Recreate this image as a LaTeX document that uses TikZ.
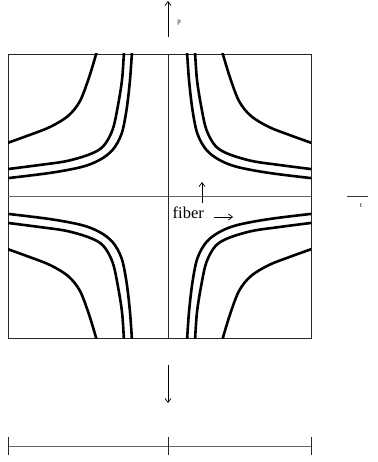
\documentclass[tikz,border=0pt]{standalone}
\usepackage{fontspec}
\setmainfont{Liberation Serif}
\usetikzlibrary{arrows.meta}
\begin{document}
\begin{tikzpicture}[x=1pt,y=-1pt,
  frame/.style={line width=0.8pt,draw=black!85},
  axisline/.style={line width=0.8pt,draw=black!60},
  curve/.style={line width=2.6pt,line cap=butt},
  thinarrow/.style={line width=0.7pt,-{Straight Barb[length=4pt,width=6pt]}},
  tick/.style={line width=0.8pt,draw=black!85},
  small/.style={font=\fontsize{7}{8}\selectfont,inner sep=0pt},
  big/.style={font=\fontsize{16.5}{18}\selectfont,inner sep=0pt}]
\useasboundingbox (0,0) rectangle (377,462);
% box
\coordinate (bTL) at (8,54);
\coordinate (bBR) at (311,338);
\draw[frame] (bTL) rectangle (bBR);
% axes in the box
\coordinate (hL) at (8,196);
\coordinate (hR) at (311,196);
\coordinate (vT) at (168,54);
\coordinate (vB) at (168,338);
\draw[axisline] (hL) -- (hR);
\draw[frame] (vT) -- (vB);
% hyperbola-like curves, mirrored in four quadrants
\begin{scope}
\clip (bTL) rectangle (bBR);
\foreach \sx/\sy in {1/1,-1/1,1/-1,-1/-1}{
\begin{scope}[shift={(159.5,196)},xscale=-\sx,yscale=\sy]
\draw[curve] plot[smooth,tension=0.55] coordinates
  {(62.5,145) (70,120) (79.5,95) (91.5,80) (109.5,69) (130,61) (155,52)};
\draw[curve] plot[smooth,tension=0.55] coordinates
  {(35.5,145) (37.5,116) (42,88) (47,66) (56,50) (69,42) (92.5,35) (120,31) (155,26.5)};
\draw[curve] plot[smooth,tension=0.55] coordinates
  {(27.5,145) (29.5,116) (33,86) (38,62) (47,46) (60,36) (78,29) (110,23) (155,17.5)};
\end{scope}}
\end{scope}
% top arrow with p
\coordinate (pS) at (168,37);
\coordinate (pE) at (168,1);
\draw[thinarrow] (pS) -- (pE);
\node[small] (p) at (179,23) {p};
% fiber label with arrows
\coordinate (fS) at (202,203);
\coordinate (fE) at (202,182);
\draw[thinarrow] (fS) -- (fE);
\node[big,anchor=base west] (fiber) at (172.5,218.5) {fiber};
\coordinate (rS) at (214,217);
\coordinate (rE) at (233,217);
\draw[thinarrow] (rS) -- (rE);
% t
\coordinate (tL) at (347,196);
\coordinate (tR) at (368,196);
\draw[line width=0.8pt,draw=black!80] (tL) -- (tR);
\node[small] (t) at (361,206) {t};
% bottom down arrow
\coordinate (dS) at (168,365);
\coordinate (dE) at (168,403);
\draw[thinarrow] (dS) -- (dE);
% bottom interval
\coordinate (iL) at (8,446);
\coordinate (iM) at (168,446);
\coordinate (iR) at (311,446);
\draw[axisline] (iL) -- (iR);
\draw[tick] (8,437) -- (8,455);
\draw[tick] (168,437) -- (168,455);
\draw[tick] (311,437) -- (311,455);
\end{tikzpicture}
\end{document}
